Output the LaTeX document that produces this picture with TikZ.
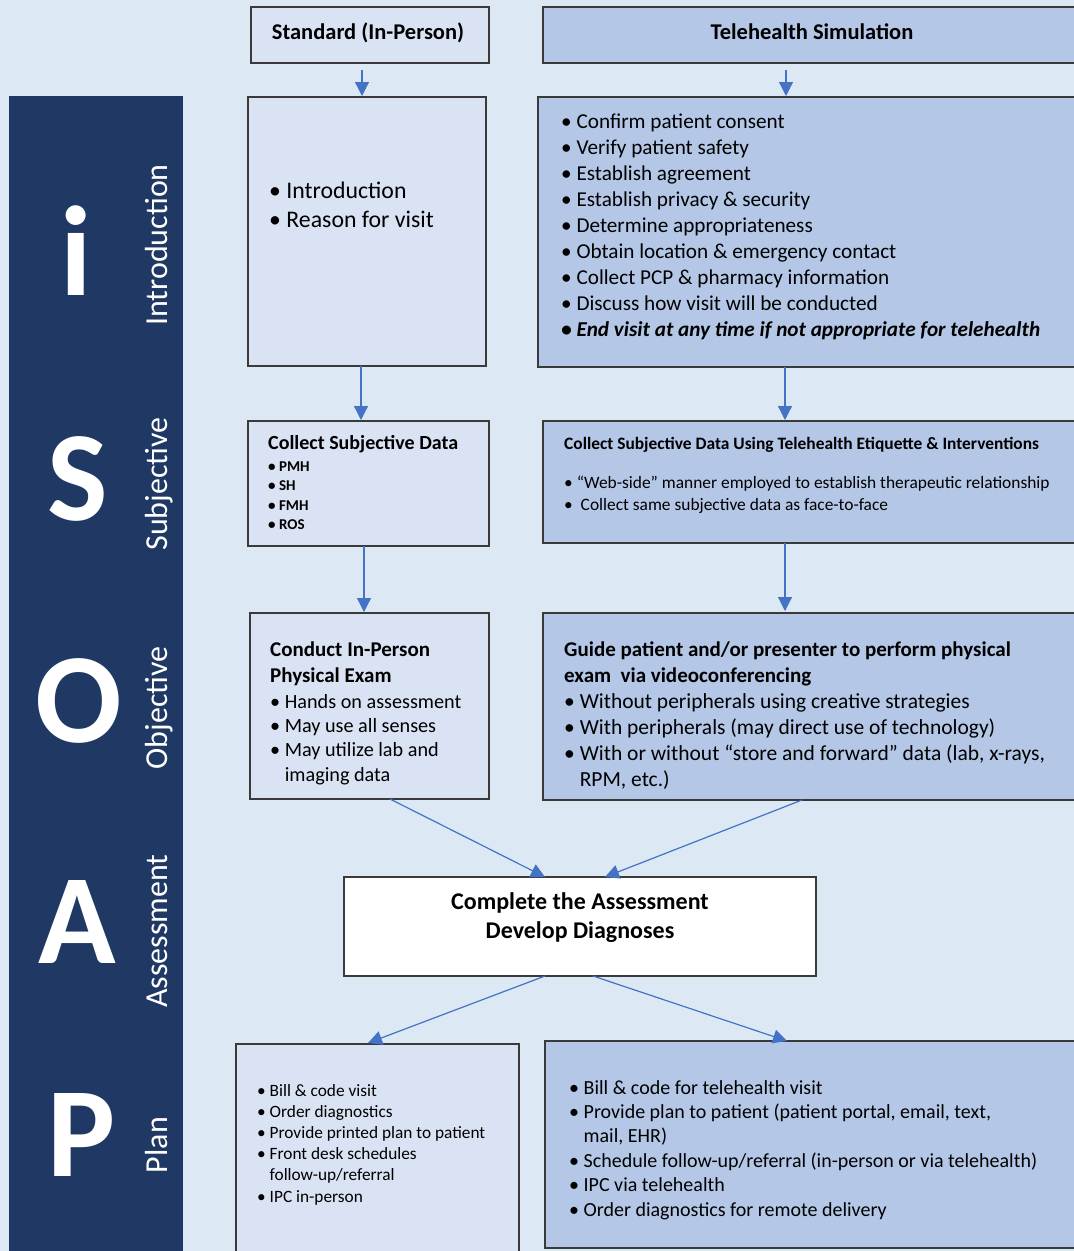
\documentclass[tikz,border=0pt]{standalone}
\usepackage{fontspec}
\setmainfont{Carlito}
\usetikzlibrary{arrows.meta,calc}
\definecolor{bgc}{HTML}{DDE8F5}
\definecolor{band}{HTML}{203864}
\definecolor{lfill}{HTML}{DAE3F3}
\definecolor{rfill}{HTML}{B4C7E7}
\definecolor{arrc}{HTML}{4472C4}
\definecolor{bord}{HTML}{3A3A3A}
\newcommand{\fs}[2]{\fontsize{#1}{#2}\selectfont}
\begin{document}
\begin{tikzpicture}[x=1pt,y=-1pt,
  box/.style={draw=bord,line width=1.3pt,inner sep=0pt,outer sep=0pt},
  lbox/.style={box,fill=lfill},
  rbox/.style={box,fill=rfill},
  txt/.style={anchor=base west,inner sep=0pt,align=left,text=black},
  big/.style={anchor=base,inner sep=0pt,text=white,font=\fs{128}{128}\bfseries},
  side/.style={anchor=base,inner sep=0pt,rotate=90,text=white,font=\fs{32}{32}},
  arr/.style={draw=arrc,line width=1.2pt,-{Triangle[length=14pt,width=14pt]}}]
\useasboundingbox (0,0) rectangle (1074,1251);
\fill[bgc] (0,0) rectangle (1074,1251);
\fill[band] (9,96) rectangle (183,1251);
% band letters
\node[big] (li) at (76,295) {i};
\node[big] (ls) at (78,520) {S};
\node[big] (lo) at (79,742) {O};
\node[big] (la) at (77,963) {A};
\node[big] (lp) at (82,1176) {P};
\node[side] (si) at (167,245) {Introduction};
\node[side] (ss) at (167,484) {Subjective};
\node[side] (so) at (167,708) {Objective};
\node[side] (sa) at (167,931) {Assessment};
\node[side] (sp) at (167,1145) {Plan};
% boxes
\node[lbox,minimum width=238pt,minimum height=56pt] (stdhead) at (370,35) {};
\node[rbox,minimum width=533pt,minimum height=56pt] (telhead) at (809.5,35) {};
\node[lbox,minimum width=238pt,minimum height=269pt] (stdintro) at (367,231.5) {};
\node[rbox,minimum width=538pt,minimum height=270pt] (telintro) at (807,232) {};
\node[lbox,minimum width=241pt,minimum height=125pt] (stdsubj) at (368.5,483.5) {};
\node[rbox,minimum width=533pt,minimum height=122pt] (telsubj) at (809.5,482) {};
\node[lbox,minimum width=239pt,minimum height=186pt] (stdobj) at (369.5,706) {};
\node[rbox,minimum width=533pt,minimum height=187pt] (telobj) at (809.5,706.5) {};
\node[box,fill=white,minimum width=472pt,minimum height=99pt] (assess) at (580,926.5) {};
\node[lbox,minimum width=283pt,minimum height=210pt] (stdplan) at (377.5,1149) {};
\node[rbox,minimum width=531pt,minimum height=207pt] (telplan) at (810.5,1144.5) {};
% headers
\node[anchor=base,inner sep=0pt,font=\fs{22.5}{26}\bfseries] (tstd) at (368,39.5) {Standard (In-Person)};
\node[anchor=base,inner sep=0pt,font=\fs{22.5}{26}\bfseries] (ttel) at (812,39.5) {Telehealth Simulation};
% intro texts (anchor at last line baseline)
\node[txt,font=\fs{23.8}{29}] (t1) at (269,227) {• Introduction\\• Reason for visit};
\node[txt,font=\fs{21.2}{26.1}] (t2) at (561,336.8) {• Confirm patient consent\\• Verify patient safety\\• Establish agreement\\• Establish privacy \& security\\• Determine appropriateness\\• Obtain location \& emergency contact\\• Collect PCP \& pharmacy information\\• Discuss how visit will be conducted\\\textbf{\textit{• End visit at any time if not appropriate for telehealth}}};
% subjective texts
\node[txt,font=\fs{20}{22}\bfseries] (t3) at (268,449.5) {Collect Subjective Data};
\node[txt,font=\fs{15}{19.5}\bfseries] (t4) at (268,529.5) {• PMH\\• SH\\• FMH\\• ROS};
\node[txt,font=\fs{17.4}{20}\bfseries] (t5) at (564,449) {Collect Subjective Data Using Telehealth Etiquette \& Interventions};
\node[txt,font=\fs{17.4}{22}] (t6) at (564,510.5) {• “Web-side” manner employed to establish therapeutic relationship\\•\ \ Collect same subjective data as face-to-face};
% objective texts
\node[txt,font=\fs{21}{26}\bfseries] (t7) at (270,682.5) {Conduct In-Person\\Physical Exam};
\node[txt,font=\fs{20.2}{24.3}] (t8) at (270,781) {• Hands on assessment\\• May use all senses\\• May utilize lab and\\\phantom{• }imaging data};
\node[txt,font=\fs{21}{26}\bfseries] (t9) at (564,682.5) {Guide patient and/or presenter to perform physical\\exam\ \ via videoconferencing};
\node[txt,font=\fs{21.5}{26}] (t10) at (564,786) {• Without peripherals using creative strategies\\• With peripherals (may direct use of technology)\\• With or without “store and forward” data (lab, x-rays,\\\phantom{• }RPM, etc.)};
% assessment
\node[anchor=base,inner sep=0pt,align=center,font=\fs{24}{29}\bfseries] (t11) at (580,938.5) {Complete the Assessment\\Develop Diagnoses};
% plan
\node[txt,font=\fs{17.3}{21.2}] (t12) at (257,1202) {• Bill \& code visit\\• Order diagnostics\\• Provide printed plan to patient\\• Front desk schedules\\\phantom{• }follow-up/referral\\• IPC in-person};
\node[txt,font=\fs{20}{24.4}] (t13) at (569,1216) {• Bill \& code for telehealth visit\\• Provide plan to patient (patient portal, email, text,\\\phantom{• }mail, EHR)\\• Schedule follow-up/referral (in-person or via telehealth)\\• IPC via telehealth\\• Order diagnostics for remote delivery};
% connectors
\draw[arr] ($(stdhead.south)+(-8,7)$) -- ($(stdintro.north)+(-5,-1)$);
\draw[arr] ($(telhead.south)+(-23.5,7)$) -- ($(telintro.north)+(-21,-1)$);
\draw[arr] ($(stdintro.south)+(-6,0)$) -- ($(stdsubj.north)+(-7.5,-1)$);
\draw[arr] ($(telintro.south)+(-22,0)$) -- ($(telsubj.north)+(-24.5,-1)$);
\draw[arr] ($(stdsubj.south)+(-4.5,0)$) -- ($(stdobj.north)+(-5.5,-1)$);
\draw[arr] ($(telsubj.south)+(-24.5,0)$) -- ($(telobj.north)+(-24.5,-2)$);
\draw[arr] ($(stdobj.south west)+(140,0)$) -- ($(assess.north west)+(201,0)$);
\draw[arr] ($(telobj.south west)+(259,0)$) -- ($(assess.north west)+(261,0)$);
\draw[arr] ($(assess.south west)+(201,0)$) -- ($(stdplan.north west)+(132,-1)$);
\draw[arr] ($(assess.south west)+(249,0)$) -- ($(telplan.north west)+(242,0)$);
\end{tikzpicture}
\end{document}
